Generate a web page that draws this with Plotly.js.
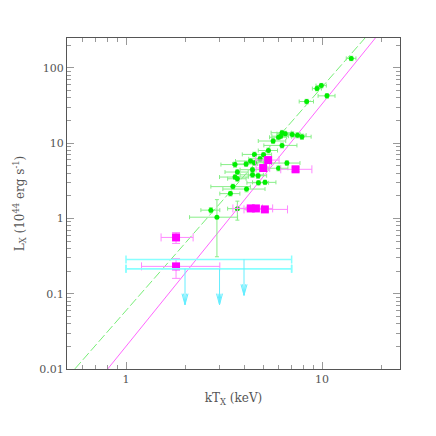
<!DOCTYPE html>
<html>
<head>
<meta charset="utf-8">
<script src="https://cdn.plot.ly/plotly-3.0.1.min.js"></script>
<style>html,body{margin:0;padding:0;background:#fff;}#plot{width:436px;height:436px;}</style>
</head>
<body>
<div id="plot"></div>
<script>
// ---- data ----
const greenX = [14.1, 9.92, 9.43, 8.35, 10.6, 6.25, 6.49, 7.05, 7.5, 7.9, 6.0, 6.15, 5.63, 6.25, 5.33, 5.03, 4.52, 4.83, 4.32, 4.52, 4.1, 3.6, 6.62, 6.0, 4.42, 3.70, 4.42, 4.72, 3.6, 3.7, 4.74, 5.12, 3.51, 4.12, 3.41, 2.71, 2.91, 3.70];
const greenY = [134, 58.3, 53.2, 35.8, 42.6, 13.8, 13.4, 13.1, 12.8, 12.2, 12.0, 12.4, 10.7, 9.35, 8.0, 7.05, 7.1, 6.2, 5.8, 5.5, 5.3, 5.2, 5.45, 4.65, 4.45, 4.14, 3.8, 3.7, 3.55, 3.37, 2.98, 3.02, 2.65, 2.46, 2.14, 1.29, 1.04, 1.35];
const greenXerr = [0.8, 0.6, 0.5, 0.7, 1.05, 0.75, 0.6, 0.7, 0.8, 0.9, 0.6, 0.6, 0.9, 1.2, 0.6, 0.5, 0.6, 0.6, 0.7, 0.5, 0.6, 0.55, 1.1, 0.7, 0.6, 0.5, 0.6, 0.5, 0.6, 0.4, 0.6, 0.7, 0.8, 1.0, 0.4, 0.3, 0.8, 0.4];
const greenYerrPlus = [9, 4, 3.5, 2.5, 3, 1, 1, 1, 1, 1, 0.9, 0.9, 0.8, 0.7, 0.6, 0.5, 0.5, 0.5, 0.4, 0.4, 0.4, 0.4, 0.4, 0.35, 0.3, 0.3, 0.3, 0.3, 0.25, 0.25, 0.2, 0.2, 0.2, 0.2, 0.15, 0.1, 0.74, 0.35];
const greenYerrMinus = [9, 4, 3.5, 2.5, 3, 1, 1, 1, 1, 1, 0.9, 0.9, 0.8, 0.7, 0.6, 0.5, 0.5, 0.5, 0.4, 0.4, 0.4, 0.4, 0.4, 0.35, 0.3, 0.3, 0.3, 0.3, 0.25, 0.25, 0.2, 0.2, 0.2, 0.2, 0.15, 0.1, 0.73, 0.40];

const magX = [5.31, 5.01, 7.33, 4.33, 4.6, 5.11, 1.80, 1.80];
const magY = [5.97, 4.68, 4.50, 1.36, 1.36, 1.32, 0.56, 0.231];
const magXerrPlus = [0.73, 0.4, 1.55, 0.64, 1.0, 1.56, 0.40, 1.21];
const magXerrMinus = [0.72, 0.4, 1.17, 0.82, 0.9, 1.11, 0.29, 0.60];
const magYerrPlus = [0.4, 0.3, 0.3, 0.08, 0.08, 0.08, 0.09, 0.061];
const magYerrMinus = [0.4, 0.3, 0.3, 0.08, 0.08, 0.08, 0.094, 0.071];

// upper limits (cyan)
const limX = [4.0, 2.0, 3.0];
const limY = [0.286, 0.215, 0.215];
const limXlow = [1.0, 1.0, 1.0];
const limXhigh = [7.0, 7.0, 7.0];
const limArrowFactor = 3.0;   // arrow drops by this factor in L

// fitted power laws  L = A * T^B
const fitGreen = {A: 0.0597, B: 2.97};
const fitMag = {A: 0.020, B: 3.22};
const fitT = [0.5, 25];

const xTickVals = [1, 10];
const xTickText = ['1', '10'];
const yTickVals = [0.01, 0.1, 1, 10, 100];
const yTickText = ['0.01', '0.1', '1', '10', '100'];

// ---- build traces ----
const traces = [];
traces.push({
  x: fitT, y: fitT.map(t => fitGreen.A * Math.pow(t, fitGreen.B)),
  mode: 'lines', line: {color: '#77ee77', width: 1, dash: '9px,3px'}, hoverinfo: 'skip'
});
traces.push({
  x: fitT, y: fitT.map(t => fitMag.A * Math.pow(t, fitMag.B)),
  mode: 'lines', line: {color: '#ff66ff', width: 1}, hoverinfo: 'skip'
});
traces.push({
  x: greenX, y: greenY, mode: 'markers',
  marker: {color: '#00ee00', size: 5, symbol: 'circle'},
  error_x: {type: 'data', array: greenXerr, color: '#88ee88', thickness: 1, width: 2},
  error_y: {type: 'data', array: greenYerrPlus, arrayminus: greenYerrMinus, color: '#88ee88', thickness: 1, width: 2}
});
traces.push({
  x: magX, y: magY, mode: 'markers',
  marker: {color: '#ff00ff', size: 8, symbol: 'square'},
  error_x: {type: 'data', array: magXerrPlus, arrayminus: magXerrMinus, color: '#ff88ff', thickness: 1, width: 4},
  error_y: {type: 'data', array: magYerrPlus, arrayminus: magYerrMinus, color: '#ff88ff', thickness: 1, width: 4}
});
// cyan limits: horizontal bars
traces.push({
  x: limX, y: limY, mode: 'markers', marker: {size: 1, color: 'rgba(0,0,0,0)'},
  error_x: {type: 'data', array: limX.map((x, i) => limXhigh[i] - x), arrayminus: limX.map((x, i) => x - limXlow[i]),
            color: '#88ffff', thickness: 1.5, width: 4}
});
// arrows
const ax = [], ay = [];
const hw = Math.pow(10, 3 / 195), hh = Math.pow(10, 11 / 75.5);
const hw2 = Math.pow(10, 1.5 / 195);
limX.forEach((x, i) => {
  const tip = limY[i] / limArrowFactor;
  ax.push(x, x, null); ay.push(limY[i], tip, null);
  ax.push(x / hw, x, x * hw, null); ay.push(tip * hh, tip, tip * hh, null);
  ax.push(x / hw2, x, x * hw2, null); ay.push(tip * hh, tip, tip * hh, null);
});
traces.push({x: ax, y: ay, mode: 'lines', line: {color: '#66eeff', width: 1}, hoverinfo: 'skip'});

const serif = 'DejaVu Serif, Liberation Serif, serif';
const axisCommon = {
  type: 'log', showgrid: false, zeroline: false, showline: true, linecolor: '#555', linewidth: 1,
  mirror: 'allticks', ticks: 'inside', ticklen: 7, tickcolor: '#999', tickwidth: 1,
  tickmode: 'array',
  tickfont: {family: serif, size: 11, color: '#555'},
  minor: {ticks: 'inside', ticklen: 4, tickcolor: '#999', dtick: 'D1', showgrid: false}
};

const layout = {
  width: 436, height: 436,
  margin: {l: 67, r: 36, t: 38, b: 67},
  paper_bgcolor: '#fff', plot_bgcolor: '#fff',
  showlegend: false,
  xaxis: Object.assign({}, axisCommon, {
    range: [Math.log10(0.5), Math.log10(25)],
    tickvals: xTickVals, ticktext: xTickText,
    title: {text: 'kT<sub>X</sub> (keV)', font: {family: serif, size: 12, color: '#555'}, standoff: 8}
  }),
  yaxis: Object.assign({}, axisCommon, {
    range: [-2, Math.log10(250)],
    tickvals: yTickVals, ticktext: yTickText,
    title: {text: 'L<sub>X</sub> (10<sup>44</sup> erg s<sup>-1</sup>)', font: {family: serif, size: 12, color: '#555'}, standoff: 12}
  })
};

Plotly.newPlot('plot', traces, layout, {staticPlot: true});
</script>
</body>
</html>
